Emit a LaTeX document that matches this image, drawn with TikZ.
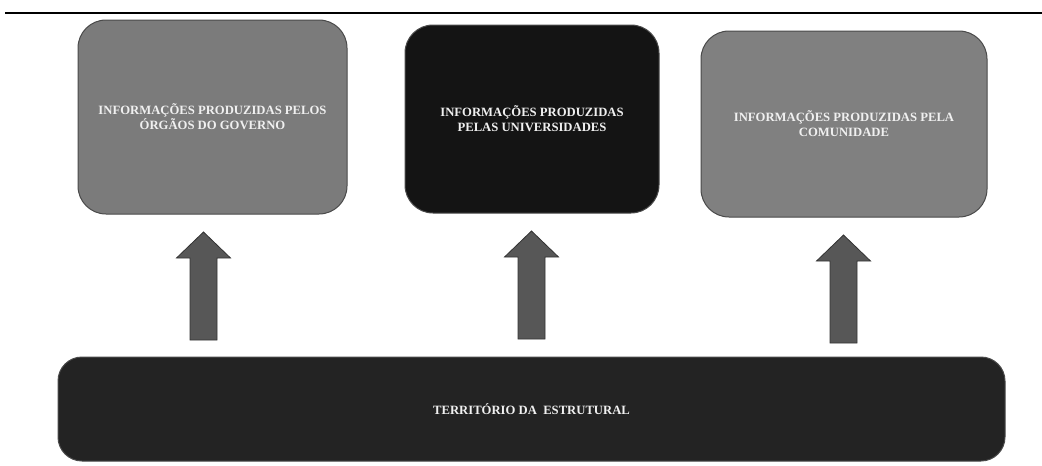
\documentclass[tikz,border=0pt]{standalone}
\usepackage{fontspec}
\setmainfont{Liberation Serif}
\definecolor{boxgray}{HTML}{7B7B7B}
\definecolor{boxgrayb}{HTML}{808080}
\definecolor{boxblack}{HTML}{141414}
\definecolor{basebox}{HTML}{232323}
\definecolor{arrowfill}{HTML}{575757}
\definecolor{arrowline}{HTML}{333333}
\definecolor{edgegray}{HTML}{4A4A4A}
\definecolor{txt}{HTML}{F0F0F0}
\begin{document}
\begin{tikzpicture}[x=0.75pt,y=-0.75pt,
  infobox/.style={rectangle, rounded corners=21pt, draw=edgegray, line width=0.75pt,
    text=txt, font=\bfseries\fontsize{9.5}{11.25}\selectfont, align=center, inner sep=0pt},
  basestyle/.style={rectangle, rounded corners=18pt, draw=edgegray, line width=0.75pt,
    fill=basebox, text=txt, font=\bfseries\fontsize{9.5}{11.25}\selectfont, inner sep=0pt},
  arrowstyle/.style={fill=arrowfill, draw=arrowline, line width=0.6pt, line join=miter},
  uparrow/.pic={\path[arrowstyle] (-13.5,0) -- (-13.5,-82) -- (-27,-82) -- (0,-108)
      -- (27,-82) -- (13.5,-82) -- (13.5,0) -- cycle;}
]
\useasboundingbox (0,0) rectangle (1042,465);
\coordinate (lineL) at (5,13);
\coordinate (lineR) at (1042,13);
\draw[line width=1.5pt] (lineL) -- (lineR);

\node[infobox, fill=boxgray, minimum width=201.75pt, minimum height=145.5pt] (gov) at (212.5,117)
  {INFORMAÇÕES PRODUZIDAS PELOS\\ÓRGÃOS DO GOVERNO};
\node[infobox, fill=boxblack, minimum width=190.5pt, minimum height=141pt] (uni) at (532,119)
  {INFORMAÇÕES PRODUZIDAS\\PELAS UNIVERSIDADES};
\node[infobox, fill=boxgrayb, minimum width=214.5pt, minimum height=139.5pt] (com) at (844,124)
  {INFORMAÇÕES PRODUZIDAS PELA\\COMUNIDADE};

\node[basestyle, minimum width=710.25pt, minimum height=78pt] (ter) at (531.5,409)
  {TERRITÓRIO DA~ ESTRUTURAL};

\coordinate (a1) at (203.5,340);
\coordinate (a2) at (531.5,339);
\coordinate (a3) at (843.5,343);
\pic at (a1) {uparrow};
\pic at (a2) {uparrow};
\pic at (a3) {uparrow};
\end{tikzpicture}
\end{document}
